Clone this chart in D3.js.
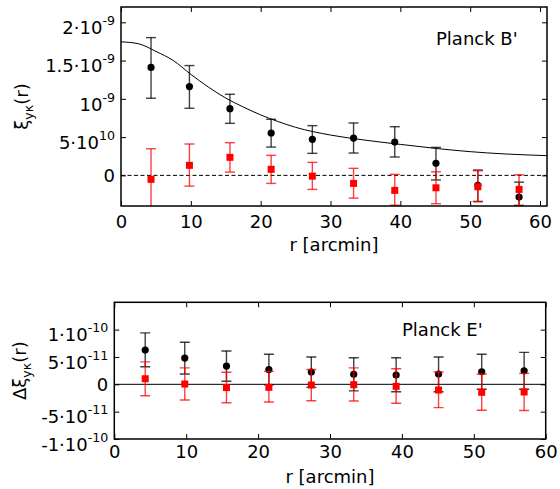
<!DOCTYPE html>
<html>
<head>
<meta charset="utf-8">
<script src="https://cdn.jsdelivr.net/npm/d3@7"></script>
<style>
  body { margin: 0; background: #fff; }
  text { font-family: "DejaVu Sans", sans-serif; fill: #000; }
</style>
</head>
<body>
<svg id="chart" width="560" height="489"></svg>
<script>
// DATA -----------------------------------

// bin centres, arcmin (same for both panels)
var rValues = [4.3, 9.8, 15.6, 21.5, 27.4, 33.3, 39.2, 45.1, 51.1, 57.0];

// top panel (Planck B'), in units of 1e-9
var bBlack   = [1.41, 1.16, 0.872, 0.554, 0.471, 0.488, 0.435, 0.157, -0.13, -0.284];
var bBlackLo = [1.008, 0.877, 0.68, 0.37, 0.288, 0.292, 0.24, -0.06, -0.34, -0.40];
var bBlackHi = [1.80, 1.435, 1.06, 0.733, 0.65, 0.685, 0.636, 0.366, 0.07, -0.088];
var bRed     = [-0.052, 0.131, 0.236, 0.079, -0.01, -0.105, -0.196, -0.162, -0.149, -0.183];
var bRedLo   = [-0.46, -0.14, 0.043, -0.105, -0.183, -0.297, -0.39, -0.37, -0.345, -0.39];
var bRedHi   = [0.348, 0.41, 0.427, 0.262, 0.17, 0.092, 0.013, 0.047, 0.06, 0.008];

// model curve, units of 1e-9
var modelR   = [0, 2.5, 5, 7.5, 10, 12.5, 15, 17.5, 20, 22.5, 25, 30, 35, 40, 45, 50, 55, 61];
var modelXi  = [1.745, 1.72, 1.62, 1.50, 1.32, 1.155, 1.01, 0.894, 0.79, 0.703, 0.628, 0.527, 0.46, 0.405, 0.353, 0.31, 0.28, 0.258];

// bottom panel (Planck E'), in units of 1e-11
var eBlack   = [6.26, 4.8, 3.34, 2.7, 2.24, 1.82, 1.7, 1.88, 2.3, 2.48];
var eBlackLo = [3.2, 1.9, 0.55, -0.1, -0.55, -1.2, -1.35, -1.35, -0.9, -0.9];
var eBlackHi = [9.4, 7.7, 6.1, 5.5, 5.0, 4.85, 4.85, 5.0, 5.5, 5.84];
var eRed     = [1.02, 0.05, -0.6, -0.55, -0.13, -0.07, -0.37, -1.04, -1.46, -1.4];
var eRedLo   = [-2.1, -2.87, -3.36, -3.23, -3.0, -3.05, -3.47, -4.27, -4.74, -4.8];
var eRedHi   = [4.1, 3.0, 2.2, 2.37, 2.7, 3.0, 2.85, 2.24, 1.88, 2.0];

// tick values and labels ([base, exponent])
var xTicks = [0, 10, 20, 30, 40, 50, 60];
var bYTicks = [0, 0.5, 1, 1.5, 2];
var bYLabels = [["0", ""], ["5·10", "10"], ["10", "-9"], ["1.5·10", "-9"], ["2·10", "-9"]];
var eYTicks = [-10, -5, 0, 5, 10];
var eYLabels = [["-1·10", "-10"], ["-5·10", "-11"], ["0", ""], ["5·10", "-11"], ["1·10", "-10"]];

// DRAWING -----------------------------------

var svg = d3.select("#chart");

function drawPanel(p) {
  var x = d3.scaleLinear().domain(p.xDomain).range([p.left, p.right]);
  var y = d3.scaleLinear().domain(p.yDomain).range([p.bottom, p.top]);

  var g = svg.append("g");
  g.append("clipPath").attr("id", "clip-" + p.id)
    .append("rect")
    .attr("x", p.left).attr("y", p.top)
    .attr("width", p.right - p.left).attr("height", p.bottom - p.top);
  var plot = g.append("g").attr("clip-path", "url(#clip-" + p.id + ")");

  // zero line
  plot.append("line")
    .attr("x1", p.left).attr("x2", p.right)
    .attr("y1", y(0)).attr("y2", y(0))
    .attr("stroke", "#000").attr("stroke-width", 1)
    .attr("stroke-dasharray", p.zeroDash);

  // model curve
  if (p.modelX) {
    var line = d3.line()
      .x((d, i) => x(p.modelX[i]))
      .y(d => y(d))
      .curve(d3.curveMonotoneX);
    plot.append("path")
      .attr("d", line(p.modelY))
      .attr("fill", "none").attr("stroke", "#000").attr("stroke-width", 1);
  }

  // error bars + markers
  p.series.forEach(function(s) {
    var bars = plot.append("g")
      .attr("stroke", s.color).attr("stroke-opacity", 0.75).attr("stroke-width", 1.4);
    rValues.forEach(function(r, i) {
      var cx = x(r);
      bars.append("line").attr("x1", cx).attr("x2", cx).attr("y1", y(s.lo[i])).attr("y2", y(s.hi[i]));
      bars.append("line").attr("x1", cx - 5).attr("x2", cx + 5).attr("y1", y(s.lo[i])).attr("y2", y(s.lo[i]));
      bars.append("line").attr("x1", cx - 5).attr("x2", cx + 5).attr("y1", y(s.hi[i])).attr("y2", y(s.hi[i]));
    });
    if (s.shape === "circle") {
      plot.append("g").selectAll("circle")
        .data(s.values).enter().append("circle")
        .attr("cx", (d, i) => x(rValues[i]))
        .attr("cy", d => y(d))
        .attr("r", 3.6)
        .attr("fill", s.color);
    } else {
      plot.append("g").selectAll("rect")
        .data(s.values).enter().append("rect")
        .attr("x", (d, i) => x(rValues[i]) - 3.5)
        .attr("y", d => y(d) - 3.5)
        .attr("width", 7).attr("height", 7)
        .attr("fill", s.color);
    }
  });

  // axes, ticks inside on all four sides
  var bottomAxis = d3.axisBottom(x).tickValues(xTicks)
    .tickSizeInner(-5).tickSizeOuter(0).tickPadding(p.xPad).tickFormat(d3.format("d"));
  var topAxis = d3.axisTop(x).tickValues(xTicks)
    .tickSizeInner(-5).tickSizeOuter(0).tickFormat("");
  var leftAxis = d3.axisLeft(y).tickValues(p.yTicks)
    .tickSizeInner(-5).tickSizeOuter(0).tickPadding(6).tickFormat("");
  var rightAxis = d3.axisRight(y).tickValues(p.yTicks)
    .tickSizeInner(-5).tickSizeOuter(0).tickFormat("");

  var axes = [
    g.append("g").attr("transform", `translate(0, ${p.bottom})`).call(bottomAxis),
    g.append("g").attr("transform", `translate(0, ${p.top})`).call(topAxis),
    g.append("g").attr("transform", `translate(${p.left}, 0)`).call(leftAxis),
    g.append("g").attr("transform", `translate(${p.right}, 0)`).call(rightAxis)
  ];
  axes.forEach(function(a) {
    a.select(".domain").remove();
    a.attr("font-size", null).attr("font-family", null);
    a.selectAll(".tick line").attr("stroke", "#000").attr("stroke-width", 1);
    a.selectAll(".tick text").style("font-size", "18px");
  });

  // y tick labels with superscript exponents
  axes[2].selectAll(".tick text").each(function(d, i) {
    var lab = p.yLabels[i];
    var t = d3.select(this).text(null);
    if (lab[1]) t.attr("y", 5.5);
    t.append("tspan").text(lab[0]);
    if (lab[1]) {
      t.append("tspan").attr("dy", -9).style("font-size", "12.6px").text(lab[1]);
    }
  });

  // frame
  g.append("rect")
    .attr("x", p.left).attr("y", p.top)
    .attr("width", p.right - p.left).attr("height", p.bottom - p.top)
    .attr("fill", "none").attr("stroke", "#000").attr("stroke-width", 1.5);

  // x title
  g.append("text")
    .attr("x", (p.left + p.right) / 2).attr("y", p.xTitleY)
    .attr("text-anchor", "middle").style("font-size", "18px")
    .text("r [arcmin]");

  // y title
  var yt = g.append("text")
    .attr("transform", `translate(${p.yTitleX}, ${(p.top + p.bottom) / 2}) rotate(-90)`)
    .attr("text-anchor", "middle").style("font-size", "18px");
  yt.append("tspan").text(p.yTitlePrefix);
  yt.append("tspan").attr("dy", 4.5).style("font-size", "12.6px").text("yκ");
  yt.append("tspan").attr("dy", -4.5).text("(r)");

  // panel name
  g.append("text")
    .attr("x", p.nameX).attr("y", p.nameY)
    .style("font-size", "18px")
    .text(p.name);
}

drawPanel({
  id: "b", name: "Planck B'", nameX: 436, nameY: 44.5,
  left: 121, right: 547, top: 7, bottom: 206,
  xDomain: [0, 61], yDomain: [-0.4, 2.2],
  yTicks: bYTicks, yLabels: bYLabels, xPad: 9.2, xTitleY: 251,
  yTitleX: 28, yTitlePrefix: "ξ", zeroDash: "4,2.5",
  modelX: modelR, modelY: modelXi,
  series: [
    { color: "#000", shape: "circle", values: bBlack, lo: bBlackLo, hi: bBlackHi },
    { color: "#ff0000", shape: "square", values: bRed, lo: bRedLo, hi: bRedHi }
  ]
});

drawPanel({
  id: "e", name: "Planck E'", nameX: 402, nameY: 336,
  left: 114.3, right: 545.7, top: 302.3, bottom: 439,
  xDomain: [0, 60], yDomain: [-10, 15],
  yTicks: eYTicks, yLabels: eYLabels, xPad: 6.5, xTitleY: 483,
  yTitleX: 26, yTitlePrefix: "Δξ", zeroDash: null,
  series: [
    { color: "#000", shape: "circle", values: eBlack, lo: eBlackLo, hi: eBlackHi },
    { color: "#ff0000", shape: "square", values: eRed, lo: eRedLo, hi: eRedHi }
  ]
});
</script>
</body>
</html>
